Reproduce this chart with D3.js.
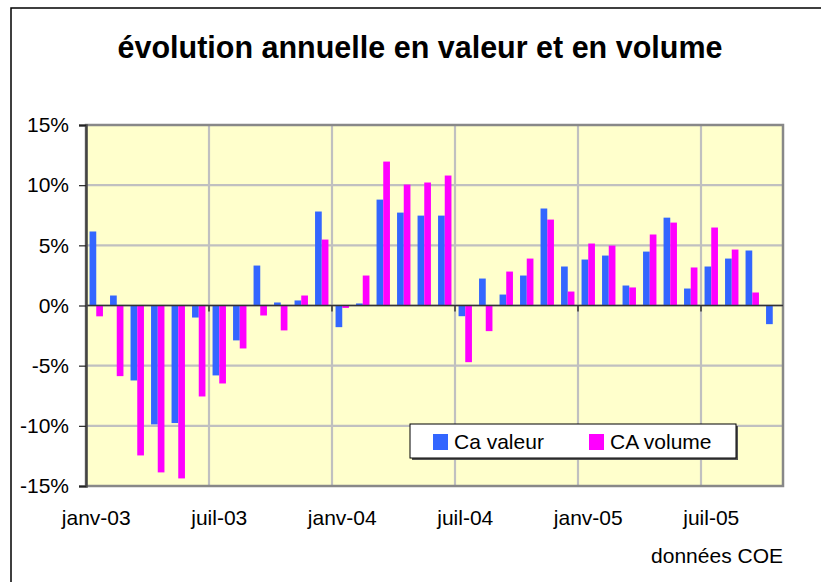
<!DOCTYPE html>
<html>
<head>
<meta charset="utf-8">
<script src="https://cdn.jsdelivr.net/npm/d3@7"></script>
<style>
  body { margin: 0; background: #fff; }
  text { font-family: "Liberation Sans", Arial, Helvetica, sans-serif; }
</style>
</head>
<body>
<svg id="chart" width="821" height="582"></svg>
<script>
// months janv-03 .. oct-05
var months = ["janv-03", "févr-03", "mars-03", "avr-03", "mai-03", "juin-03",
              "juil-03", "août-03", "sept-03", "oct-03", "nov-03", "déc-03",
              "janv-04", "févr-04", "mars-04", "avr-04", "mai-04", "juin-04",
              "juil-04", "août-04", "sept-04", "oct-04", "nov-04", "déc-04",
              "janv-05", "févr-05", "mars-05", "avr-05", "mai-05", "juin-05",
              "juil-05", "août-05", "sept-05", "oct-05"];

// yearly change, in %
var caValeur = [6.15, 0.83, -6.23, -9.88, -9.77, -1.0, -5.81, -2.9, 3.32, 0.25, 0.42, 7.81,
                -1.8, 0.17, 8.8, 7.72, 7.47, 7.47, -0.89, 2.24, 0.91, 2.49, 8.06, 3.24,
                3.82, 4.15, 1.66, 4.48, 7.3, 1.41, 3.24, 3.9, 4.57, -1.55];
var caVolume = [-0.9, -5.87, -12.46, -13.87, -14.37, -7.56, -6.48, -3.57, -0.83, -2.07, 0.83, 5.48,
                -0.2, 2.49, 11.96, 10.05, 10.22, 10.8, -4.71, -2.13, 2.82, 3.9, 7.14, 1.16,
                5.15, 4.98, 1.5, 5.9, 6.89, 3.16, 6.48, 4.65, 1.08, 0];

var yTicks = [-15, -10, -5, 0, 5, 10, 15];
var xLabels = ["janv-03", "juil-03", "janv-04", "juil-04", "janv-05", "juil-05"];

var seriesNames = ["Ca valeur", "CA volume"];
var colors = ["#3366ff", "#ff00ff"];

function drawChart() {
    var svg = d3.select("#chart");

    var plot = {left: 86, right: 783, top: 125, bottom: 486};

    // outer frame
    svg.append("rect")
        .attr("x", 11).attr("y", 8)
        .attr("width", 830).attr("height", 600)
        .attr("fill", "none")
        .attr("stroke", "#000")
        .attr("stroke-width", 1.5);

    svg.append("text")
        .attr("x", 420).attr("y", 58)
        .attr("text-anchor", "middle")
        .attr("font-size", 31)
        .attr("font-weight", "bold")
        .attr("textLength", 605)
        .attr("lengthAdjust", "spacingAndGlyphs")
        .text("évolution annuelle en valeur et en volume");

    var x = d3.scaleBand()
        .domain(months)
        .range([plot.left, plot.right]);

    var inner = d3.scaleBand()
        .domain([0, 1])
        .range([0, x.bandwidth()])
        .paddingInner(0)
        .paddingOuter(0.53);

    var y = d3.scaleLinear()
        .domain([-15, 15])
        .range([plot.bottom, plot.top]);

    svg.append("rect")
        .attr("x", plot.left).attr("y", plot.top)
        .attr("width", plot.right - plot.left)
        .attr("height", plot.bottom - plot.top)
        .attr("fill", "#ffffcc");

    // gridlines
    svg.append("g")
        .selectAll("line")
        .data(yTicks)
        .enter().append("line")
        .attr("x1", plot.left).attr("x2", plot.right)
        .attr("y1", function(d) { return y(d); })
        .attr("y2", function(d) { return y(d); })
        .attr("stroke", "#c0c0c0")
        .attr("stroke-width", 2.2);

    var gridMonths = months.filter(function(d, i) { return i > 0 && i % 6 == 0; });
    svg.append("g")
        .selectAll("line")
        .data(gridMonths)
        .enter().append("line")
        .attr("x1", function(d) { return x(d); })
        .attr("x2", function(d) { return x(d); })
        .attr("y1", plot.top).attr("y2", plot.bottom)
        .attr("stroke", "#c0c0c0")
        .attr("stroke-width", 2.2);

    // plot border
    svg.append("rect")
        .attr("x", plot.left).attr("y", plot.top)
        .attr("width", plot.right - plot.left)
        .attr("height", plot.bottom - plot.top)
        .attr("fill", "none")
        .attr("stroke", "#888")
        .attr("stroke-width", 2.5);

    // bars
    var series = [caValeur, caVolume];
    series.forEach(function(values, s) {
        svg.append("g")
            .selectAll("rect")
            .data(values)
            .enter().append("rect")
            .attr("x", function(d, i) { return x(months[i]) + inner(s); })
            .attr("width", inner.bandwidth())
            .attr("y", function(d) { return y(Math.max(0, d)); })
            .attr("height", function(d) { return Math.abs(y(d) - y(0)); })
            .attr("fill", colors[s]);
    });

    // zero line with ticks between every 6 months
    svg.append("line")
        .attr("x1", plot.left).attr("x2", plot.right)
        .attr("y1", y(0)).attr("y2", y(0))
        .attr("stroke", "#333")
        .attr("stroke-width", 1.5);

    svg.append("g")
        .selectAll("line")
        .data(gridMonths)
        .enter().append("line")
        .attr("x1", function(d) { return x(d); })
        .attr("x2", function(d) { return x(d); })
        .attr("y1", y(0)).attr("y2", y(0) + 6)
        .attr("stroke", "#333")
        .attr("stroke-width", 1.5);

    // y axis
    var yAxis = d3.axisLeft(y)
        .tickValues(yTicks)
        .tickSize(7)
        .tickPadding(10)
        .tickFormat(function(d) { return d + "%"; });

    var gy = svg.append("g")
        .attr("transform", "translate(" + plot.left + ",0)")
        .call(yAxis);
    gy.select(".domain")
        .attr("stroke", "#444")
        .attr("stroke-width", 2.5);
    gy.selectAll(".tick line").attr("stroke", "#222").attr("stroke-width", 1.2);
    gy.selectAll(".tick text")
        .attr("font-size", 21)
        .attr("font-family", "Liberation Sans, Arial, sans-serif")
        .attr("fill", "#000");

    // month labels
    svg.append("g")
        .selectAll("text")
        .data(xLabels)
        .enter().append("text")
        .attr("x", function(d) { return x(d) + x.bandwidth() / 2; })
        .attr("y", 525)
        .attr("text-anchor", "middle")
        .attr("font-size", 21)
        .text(function(d) { return d; });

    svg.append("text")
        .attr("x", 783).attr("y", 563)
        .attr("text-anchor", "end")
        .attr("font-size", 21)
        .text("données COE");

    // legend
    var legend = svg.append("g");
    legend.append("rect")
        .attr("x", 412).attr("y", 426)
        .attr("width", 326).attr("height", 34)
        .attr("fill", "#555");
    legend.append("rect")
        .attr("x", 410).attr("y", 424)
        .attr("width", 326).attr("height", 34)
        .attr("fill", "#fff")
        .attr("stroke", "#000")
        .attr("stroke-width", 1);

    var legendX = [433, 589];
    seriesNames.forEach(function(name, s) {
        legend.append("rect")
            .attr("x", legendX[s]).attr("y", 434)
            .attr("width", 15).attr("height", 16)
            .attr("fill", colors[s]);
        legend.append("text")
            .attr("x", legendX[s] + 21).attr("y", 449)
            .attr("font-size", 21)
            .text(name);
    });
}

drawChart();
</script>
</body>
</html>
